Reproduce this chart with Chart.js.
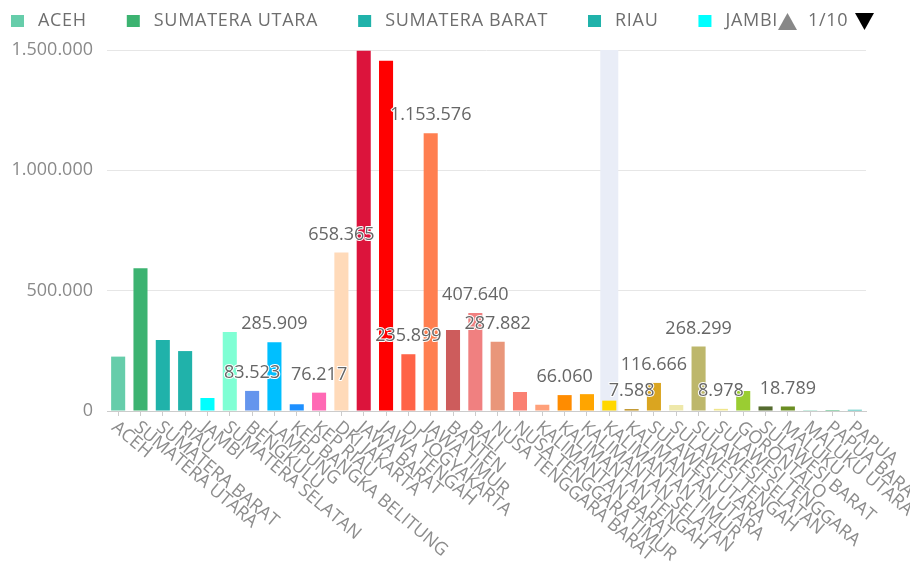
<!DOCTYPE html>
<html>
<head>
<meta charset="utf-8">
<script src="https://cdn.jsdelivr.net/npm/chart.js@4.4.1/dist/chart.umd.min.js"></script>
<style>
  html, body { margin: 0; padding: 0; background: #fff; }
</style>
</head>
<body>
<canvas id="chart" width="910" height="567"></canvas>
<script>
// data
const provinces = [
    'ACEH', 'SUMATERA UTARA', 'SUMATERA BARAT', 'RIAU', 'JAMBI', 'SUMATERA SELATAN',
    'BENGKULU', 'LAMPUNG', 'KEP BANGKA BELITUNG', 'KEP RIAU', 'DKI JAKARTA', 'JAWA BARAT',
    'JAWA TENGAH', 'DI YOGYAKARTA', 'JAWA TIMUR', 'BANTEN', 'BALI', 'NUSA TENGGARA BARAT',
    'NUSA TENGGARA TIMUR', 'KALIMANTAN BARAT', 'KALIMANTAN TENGAH', 'KALIMANTAN SELATAN',
    'KALIMANTAN TIMUR', 'KALIMANTAN UTARA', 'SULAWESI UTARA', 'SULAWESI TENGAH',
    'SULAWESI SELATAN', 'SULAWESI TENGGARA', 'GORONTALO', 'SULAWESI BARAT', 'MALUKU',
    'MALUKU UTARA', 'PAPUA BARAT', 'PAPUA'
];
const values = [
    226000, 593000, 295000, 249000, 54000, 328000,
    83523, 285909, 28000, 76217, 658365, 1497000,
    1455000, 235899, 1153576, 337000, 407640, 287882,
    79000, 26000, 66060, 70000,
    43000, 7588, 116666, 25000,
    268299, 8978, 83000, 19000, 18789,
    3500, 4200, 5100
];
const barColors = [
    '#66cdaa', '#3cb371', '#20b2aa', '#20b2aa', '#00ffff', '#7fffd4',
    '#6495ed', '#00bfff', '#1e90ff', '#ff69b4', '#ffdab9', '#dc143c',
    '#ff0000', '#ff6347', '#ff7f50', '#cd5c5c', '#f08080', '#e9967a',
    '#fa8072', '#ffa07a', '#ff8c00', '#ffa500',
    '#ffd700', '#b8860b', '#daa520', '#eee8aa',
    '#bdb76b', '#f0e68c', '#9acd32', '#556b2f', '#6b8e23',
    '#66cdaa', '#3cb371', '#20b2aa'
];
const yTicks = [0, 500000, 1000000, 1500000];
// bars whose value label is visible (the others are hidden in the original)
const labelledProvinces = [
    'BENGKULU', 'LAMPUNG', 'KEP RIAU', 'DKI JAKARTA', 'DI YOGYAKARTA', 'JAWA TIMUR',
    'BALI', 'NUSA TENGGARA BARAT', 'KALIMANTAN TENGAH', 'KALIMANTAN UTARA',
    'SULAWESI UTARA', 'SULAWESI SELATAN', 'SULAWESI TENGGARA', 'MALUKU'
];
const hoveredProvince = 'KALIMANTAN TIMUR';
const legendItems = 5;
const legendPage = '1/10';

const FONT = "'Open Sans', sans-serif";

function formatNumber(v) {
    return String(Math.round(v)).replace(/\B(?=(\d{3})+(?!\d))/g, '.');
}

// light band behind the hovered category
const hoverBand = {
    id: 'hoverBand',
    beforeDatasetsDraw(chart) {
        const ctx = chart.ctx;
        const area = chart.chartArea;
        const x = chart.scales.x.getPixelForValue(provinces.indexOf(hoveredProvince));
        ctx.save();
        ctx.fillStyle = '#e9edf7';
        ctx.fillRect(x - 9, area.top, 18, area.bottom - area.top);
        ctx.restore();
    }
};

// value labels above some bars
const barLabels = {
    id: 'barLabels',
    afterDatasetsDraw(chart) {
        const ctx = chart.ctx;
        const meta = chart.getDatasetMeta(0);
        ctx.save();
        ctx.font = '18px ' + FONT;
        ctx.textAlign = 'center';
        ctx.textBaseline = 'middle';
        ctx.lineJoin = 'round';
        labelledProvinces.forEach(name => {
            const i = provinces.indexOf(name);
            const bar = meta.data[i];
            const text = formatNumber(values[i]);
            ctx.strokeStyle = '#ffffff';
            ctx.lineWidth = 2;
            ctx.strokeText(text, bar.x, bar.y - 18);
            ctx.fillStyle = '#666666';
            ctx.fillText(text, bar.x, bar.y - 18);
        });
        ctx.restore();
    }
};

// rotated category names, reading downwards to the right
const xLabels = {
    id: 'xLabels',
    afterDraw(chart) {
        const ctx = chart.ctx;
        const xs = chart.scales.x;
        const y0 = chart.chartArea.bottom;
        ctx.save();
        ctx.font = '18px ' + FONT;
        ctx.fillStyle = '#8c8c8c';
        ctx.textAlign = 'left';
        ctx.textBaseline = 'middle';
        provinces.forEach((name, i) => {
            const x = xs.getPixelForValue(i);
            ctx.save();
            ctx.translate(x - 4, y0 + 14);
            ctx.rotate(40 * Math.PI / 180);
            ctx.fillText(name, 0, 0);
            ctx.restore();
        });
        ctx.restore();
    }
};

// first page of the scrolling legend with its pager
const pagedLegend = {
    id: 'pagedLegend',
    afterDraw(chart) {
        const ctx = chart.ctx;
        ctx.save();
        ctx.font = '18px ' + FONT;
        ctx.letterSpacing = '0.7px';
        ctx.textBaseline = 'middle';
        let x = 11;
        const y = 21;
        for (let i = 0; i < legendItems; i++) {
            ctx.fillStyle = barColors[i];
            ctx.fillRect(x, y - 6, 13, 12);
            ctx.fillStyle = '#6e6e6e';
            ctx.textAlign = 'left';
            ctx.fillText(provinces[i], x + 27, y);
            x += 27 + ctx.measureText(provinces[i]).width + 40;
        }
        // pager
        const px = 778;
        ctx.fillStyle = '#888888';
        ctx.beginPath();
        ctx.moveTo(px, y + 9);
        ctx.lineTo(px + 19, y + 9);
        ctx.lineTo(px + 9.5, y - 8);
        ctx.closePath();
        ctx.fill();
        ctx.fillStyle = '#6e6e6e';
        ctx.fillText(legendPage, 808, y);
        ctx.fillStyle = '#000000';
        ctx.beginPath();
        ctx.moveTo(855, y - 8);
        ctx.lineTo(874, y - 8);
        ctx.lineTo(864.5, y + 9);
        ctx.closePath();
        ctx.fill();
        ctx.restore();
    }
};

Chart.defaults.font.family = FONT;
Chart.defaults.font.size = 18;

const chart = new Chart(document.getElementById('chart'), {
    type: 'bar',
    data: {
        labels: provinces,
        datasets: [{
            data: values,
            backgroundColor: barColors,
            borderWidth: 0,
            categoryPercentage: 1,
            barPercentage: 0.63
        }]
    },
    options: {
        responsive: false,
        animation: false,
        layout: { padding: { top: 50, right: 44, left: 0, bottom: 0 } },
        plugins: {
            legend: { display: false },
            tooltip: { enabled: false }
        },
        scales: {
            x: {
                grid: {
                    drawOnChartArea: false,
                    drawTicks: true,
                    tickLength: 5,
                    offset: false,
                    color: '#cccccc'
                },
                border: { color: '#cccccc', width: 1 },
                ticks: { display: false },
                afterFit(scale) { scale.height = 156; }
            },
            y: {
                min: 0,
                max: 1500000,
                afterBuildTicks(scale) {
                    scale.ticks = yTicks.map(v => ({ value: v }));
                },
                grid: { color: '#e6e6e6', drawTicks: false },
                border: { display: false },
                ticks: {
                    padding: 14,
                    color: '#8a8a8a',
                    callback: v => formatNumber(v)
                },
                afterFit(scale) { scale.width = 107; }
            }
        }
    },
    plugins: [hoverBand, barLabels, xLabels, pagedLegend]
});
</script>
</body>
</html>
